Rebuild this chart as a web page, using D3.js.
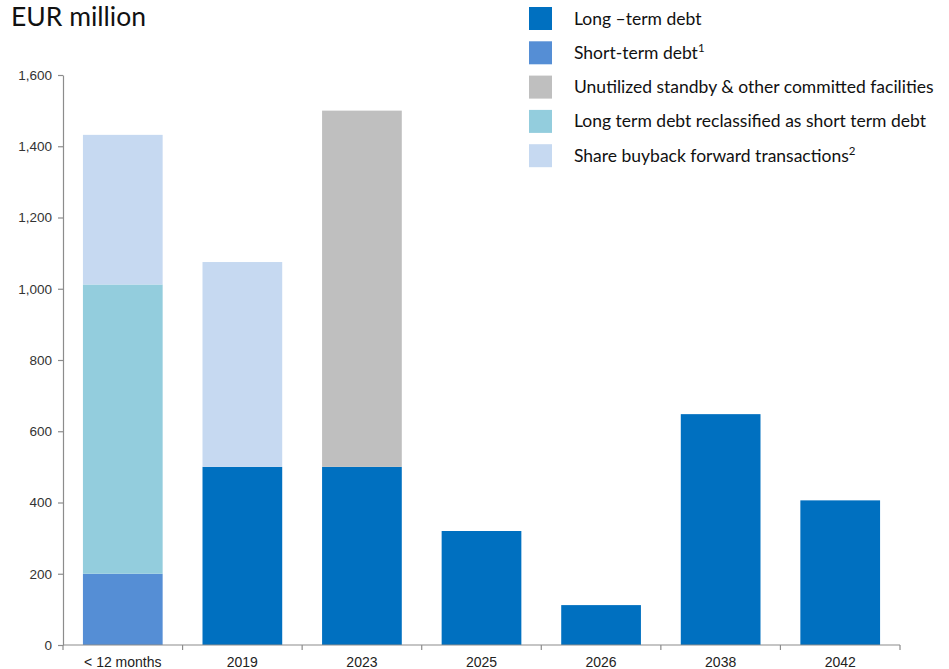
<!DOCTYPE html>
<html>
<head>
<meta charset="utf-8">
<script src="https://cdn.jsdelivr.net/npm/d3@7/dist/d3.min.js"></script>
<style>
  html, body { margin: 0; padding: 0; background: #fff; }
  svg { display: block; }
</style>
</head>
<body>
<svg id="chart" width="949" height="669"></svg>
<script>
// Maturity buckets
const categories = ["< 12 months", "2019", "2023", "2025", "2026", "2038", "2042"];

// Series values (EUR million), one per bucket
const longTermDebt      = [0, 500, 500, 320, 112, 648, 406];
const shortTermDebt     = [200, 0, 0, 0, 0, 0, 0];
const unutilizedFacilities = [0, 0, 1000, 0, 0, 0, 0];
const reclassifiedDebt  = [812, 0, 0, 0, 0, 0, 0];
const shareBuyback      = [420, 575, 0, 0, 0, 0, 0];

const seriesNames = [
  "Long \u2013term debt",
  "Short-term debt",
  "Unutilized standby & other committed facilities",
  "Long term debt reclassified as short term debt",
  "Share buyback forward transactions"
];
const seriesSup = ["", "1", "", "", "2"];
const yTicks = [0, 200, 400, 600, 800, 1000, 1200, 1400, 1600];

const colors = ["#0070C0", "#558ED5", "#BFBFBF", "#93CDDD", "#C6D9F1"];
const seriesValues = [longTermDebt, shortTermDebt, unutilizedFacilities, reclassifiedDebt, shareBuyback];
const keys = ["lt", "st", "un", "rc", "sb"];

const rows = categories.map((c, i) => {
  const r = { cat: c };
  keys.forEach((k, j) => r[k] = seriesValues[j][i]);
  return r;
});

const svg = d3.select("#chart");
const plotLeft = 63, plotRight = 900, plotTop = 75, plotBottom = 645;

const x = d3.scaleBand().domain(categories).range([plotLeft, plotRight])
  .paddingInner(1 / 3).paddingOuter(1 / 6);
const y = d3.scaleLinear().domain([0, 1600]).range([plotBottom, plotTop]);

const layers = d3.stack().keys(keys)(rows);

svg.append("g").selectAll("g")
  .data(layers)
  .join("g")
  .attr("fill", (d, i) => colors[i])
  .selectAll("rect")
  .data(d => d.filter(p => p[1] - p[0] > 0))
  .join("rect")
  .attr("x", d => x(d.data.cat))
  .attr("width", x.bandwidth())
  .attr("y", d => y(d[1]))
  .attr("height", d => y(d[0]) - y(d[1]));

// Y axis
const yAxis = d3.axisLeft(y).tickValues(yTicks).tickSize(5).tickSizeOuter(0)
  .tickFormat(d3.format(","));
const gy = svg.append("g").attr("transform", `translate(${plotLeft},0)`).call(yAxis);
gy.select(".domain").attr("stroke", "#8c8c8c").attr("stroke-width", 1.2);
gy.selectAll(".tick line").attr("stroke", "#8c8c8c").attr("stroke-width", 1.2);
gy.selectAll(".tick text")
  .attr("x", -11)
  .attr("fill", "#333")
  .style("font-family", "'Liberation Sans', Arial, sans-serif")
  .style("font-size", "13.5px");

// X axis with ticks on bucket boundaries
const gx = svg.append("g").attr("transform", `translate(0,${plotBottom})`);
gx.append("line").attr("x1", plotLeft).attr("x2", plotRight).attr("y1", 0).attr("y2", 0)
  .attr("stroke", "#8c8c8c").attr("stroke-width", 1.2);
const step = x.step();
gx.selectAll("line.tk")
  .data(d3.range(categories.length + 1))
  .join("line").attr("class", "tk")
  .attr("x1", i => plotLeft + i * step).attr("x2", i => plotLeft + i * step)
  .attr("y1", 0).attr("y2", 5)
  .attr("stroke", "#8c8c8c").attr("stroke-width", 1.2);
gx.selectAll("text")
  .data(categories)
  .join("text")
  .attr("x", d => x(d) + x.bandwidth() / 2)
  .attr("y", 21.5)
  .attr("text-anchor", "middle")
  .attr("fill", "#222")
  .style("font-family", "'Liberation Sans', Arial, sans-serif")
  .style("font-size", "14px")
  .text(d => d);

// Title
svg.append("text")
  .attr("x", 11).attr("y", 26)
  .attr("fill", "#111")
  .style("font-family", "Lato, 'Open Sans', sans-serif")
  .style("font-size", "26.5px")
  .text("EUR million");

// Legend
const legend = svg.append("g").attr("transform", "translate(529,7)");
const item = legend.selectAll("g")
  .data(seriesNames)
  .join("g")
  .attr("transform", (d, i) => `translate(0,${i * 34.3})`);
item.append("rect").attr("width", 23).attr("height", 23)
  .attr("fill", (d, i) => colors[i]);
const lt = item.append("text")
  .attr("x", 45).attr("y", 17.5)
  .attr("fill", "#111")
  .style("font-family", "Lato, 'Open Sans', sans-serif")
  .style("font-size", "17.5px");
lt.append("tspan").text(d => d);
lt.append("tspan")
  .attr("dy", -6.5)
  .style("font-size", "11.5px")
  .text((d, i) => seriesSup[i]);
</script>
</body>
</html>
